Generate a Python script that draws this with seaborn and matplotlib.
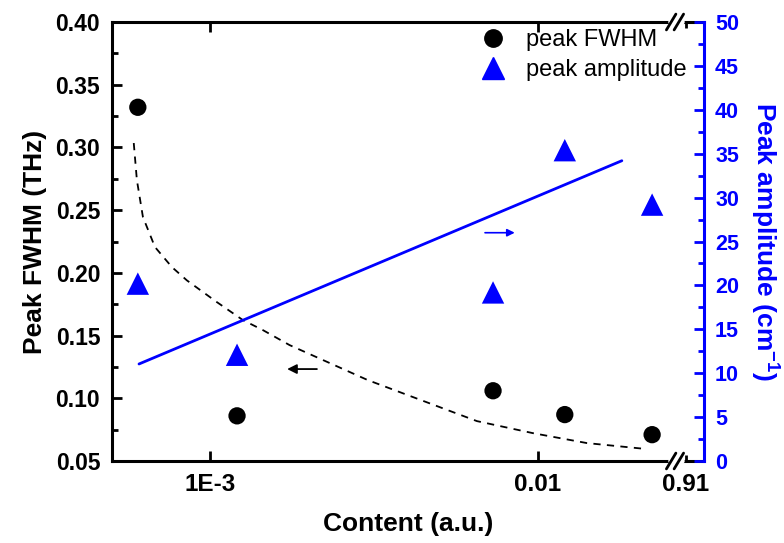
import matplotlib
matplotlib.use('Agg')
import matplotlib.pyplot as plt
import seaborn as sns
from matplotlib.lines import Line2D
from matplotlib.ticker import FixedLocator, NullFormatter, MultipleLocator

# ---- data ----
content = [6.03e-4, 1.21e-3, 7.30e-3, 1.208e-2, 2.23e-2]
fwhm = [0.332, 0.086, 0.106, 0.087, 0.071]
amplitude = [20.2, 12.1, 19.2, 35.4, 29.2]

fwhm_fit_x = [5.86e-4, 5.99e-4, 6.25e-4, 6.80e-4, 7.66e-4, 8.51e-4, 1.05e-3, 1.26e-3,
              1.45e-3, 1.75e-3, 3.03e-3, 6.52e-3, 9.66e-3, 1.41e-2, 2.15e-2]
fwhm_fit_y = [0.3035, 0.274, 0.2445, 0.2206, 0.2046, 0.194, 0.1767, 0.1624,
              0.1544, 0.1424, 0.1145, 0.0818, 0.0722, 0.0643, 0.0595]

amp_fit_x = [6.08e-4, 1.803e-2]
amp_fit_y = [11.05, 34.2]

x_tick_values = [1e-3, 1e-2, 0.02825]
x_tick_labels = ['1E-3', '0.01', '0.91']
x_minor_values = [6e-4, 7e-4, 8e-4, 9e-4, 2e-3, 3e-3, 4e-3, 5e-3, 6e-3, 7e-3, 8e-3, 9e-3, 2e-2]
legend_labels = ['peak FWHM', 'peak amplitude']

# ---- style ----
sns.set_theme(style='white')
plt.rcParams['font.family'] = ['Liberation Sans', 'DejaVu Sans']
plt.rcParams['mathtext.fontset'] = 'custom'
plt.rcParams['mathtext.rm'] = 'Liberation Sans'
plt.rcParams['mathtext.bf'] = 'Liberation Sans:bold'
plt.rcParams['text.color'] = 'black'
plt.rcParams['axes.labelcolor'] = 'black'

BLUE = '#0000ff'

fig = plt.figure(figsize=(7.84, 5.43), dpi=100)
ax = fig.add_axes([112 / 784, 1 - 461 / 543, 592 / 784, 439 / 543])
ax.set_xscale('log')
ax2 = ax.twinx()

# left axis: FWHM
sns.lineplot(x=fwhm_fit_x, y=fwhm_fit_y, ax=ax, color='black', lw=1.3,
             linestyle=(0, (4, 3.5)), estimator=None)
sns.scatterplot(x=content, y=fwhm, ax=ax, marker='o', s=155, color='black',
                edgecolor='none', zorder=5)

# right axis: amplitude
sns.lineplot(x=amp_fit_x, y=amp_fit_y, ax=ax2, color=BLUE, lw=2, estimator=None)
sns.scatterplot(x=content, y=amplitude, ax=ax2, marker='^', s=260, color=BLUE,
                edgecolor='none', zorder=5)

ax.set_xlim(5.03e-4, 0.0321)
ax.set_ylim(0.05, 0.40)
ax2.set_ylim(0, 50)

ax.set_xticks(x_tick_values, labels=x_tick_labels)
ax.xaxis.set_minor_locator(FixedLocator(x_minor_values))
ax.xaxis.set_minor_formatter(NullFormatter())
ax.yaxis.set_major_locator(MultipleLocator(0.05))
ax.yaxis.set_minor_locator(MultipleLocator(0.025))
ax.yaxis.set_major_formatter(plt.FormatStrFormatter('%.2f'))
ax2.yaxis.set_major_locator(MultipleLocator(5))
ax2.yaxis.set_minor_locator(MultipleLocator(2.5))

ax.tick_params(axis='both', which='both', direction='in', width=2, color='black',
               labelcolor='black')
ax.tick_params(which='major', length=7)
ax.tick_params(which='minor', length=4)
ax.tick_params(axis='x', top=True, bottom=True, labelsize=17.5, pad=8.5)
ax.tick_params(axis='y', left=True, right=False, labelsize=16.5, pad=8.5)
ax.xaxis.get_major_ticks()[2].tick1line.set_markersize(4)
ax.xaxis.get_major_ticks()[2].tick2line.set_markersize(4)
ax2.tick_params(axis='y', which='both', direction='in', width=2, color=BLUE,
                labelcolor=BLUE, labelsize=15.5, right=True, left=False, pad=8)
ax2.tick_params(axis='y', which='major', length=7)
ax2.tick_params(axis='y', which='minor', length=4)

for lab in ax.get_xticklabels() + ax.get_yticklabels() + ax2.get_yticklabels():
    lab.set_fontweight('bold')

for s in ['left', 'bottom', 'top']:
    ax.spines[s].set_color('black')
    ax.spines[s].set_linewidth(2.2)
    ax2.spines[s].set_visible(False)
ax.spines['right'].set_visible(False)
ax2.spines['right'].set_color(BLUE)
ax2.spines['right'].set_linewidth(2.2)

ax.set_xlabel('Content (a.u.)', fontsize=19, fontweight='bold', labelpad=12,
              color='black')
ax.set_ylabel('Peak FWHM (THz)', fontsize=19, fontweight='bold', labelpad=6,
              color='black')
ax2.set_ylabel(r'Peak amplitude (cm$^{\mathbf{-1}}$)', fontsize=19, fontweight='bold',
               color=BLUE, rotation=270, va='bottom', labelpad=7)

# direction arrows
ax.annotate('', xy=(1.72e-3, 0.1233), xytext=(2.12e-3, 0.1233),
            arrowprops=dict(arrowstyle='-|>', color='black', lw=1.3, mutation_scale=14,
                            shrinkA=0, shrinkB=0))
ax2.annotate('', xy=(8.5e-3, 26.0), xytext=(6.9e-3, 26.0),
             arrowprops=dict(arrowstyle='-|>', color=BLUE, lw=1.2, mutation_scale=11,
                             shrinkA=0, shrinkB=0))

# axis break marks
bx = (675 - 112) / 592
for yb in (0.0, 1.0):
    ax.plot([bx - 0.006, bx + 0.012], [yb, yb], transform=ax.transAxes, color='white',
            lw=4, clip_on=False, zorder=10)
    for off in (-0.0065, 0.0065):
        ax.plot([bx + off - 0.008, bx + off + 0.008], [yb - 0.018, yb + 0.018],
                transform=ax.transAxes, color='black', lw=2, clip_on=False, zorder=11)

handles = [Line2D([], [], marker='o', ls='', color='black', ms=12.5),
           Line2D([], [], marker='^', ls='', color=BLUE, ms=16)]
leg = ax2.legend(handles, legend_labels, loc='upper right', bbox_to_anchor=(0.971, 0.984),
                 frameon=False, fontsize=17, handletextpad=0.4, labelspacing=0.33,
                 borderaxespad=0, borderpad=0)
for t in leg.get_texts():
    t.set_color('black')

fig.savefig('out.png', dpi=100)
